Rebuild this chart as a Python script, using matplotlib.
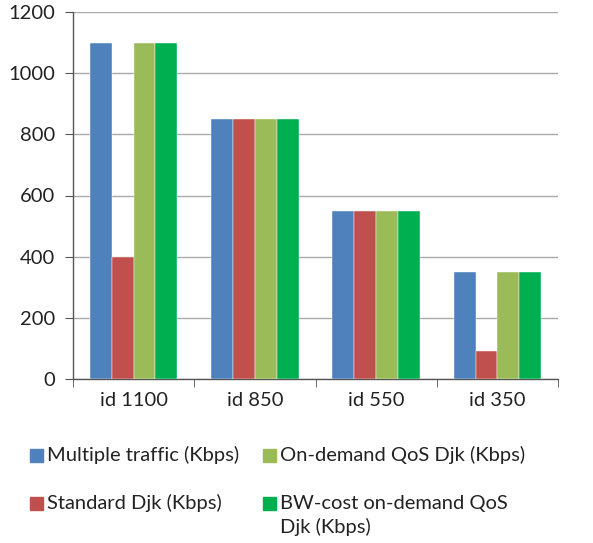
import matplotlib
matplotlib.use("Agg")
import matplotlib.pyplot as plt
from matplotlib.patches import Rectangle
import numpy as np

categories = ["id 1100", "id 850", "id 550", "id 350"]
multiple_traffic = [1100, 850, 550, 350]
standard_djk = [400, 850, 550, 90]
on_demand_qos = [1100, 850, 550, 350]
bw_cost_qos = [1100, 850, 550, 350]

series = [
    ("Multiple traffic (Kbps)", multiple_traffic, "#4F81BD"),
    ("Standard Djk (Kbps)", standard_djk, "#C0504D"),
    ("On-demand QoS Djk (Kbps)", on_demand_qos, "#9BBB59"),
    ("BW-cost on-demand QoS\nDjk (Kbps)", bw_cost_qos, "#00B050"),
]

plt.rcParams["font.family"] = ["Lato", "DejaVu Sans"]
FS = 14.5
TXT = "#222222"

W, H = 593, 543
fig = plt.figure(figsize=(W / 100, H / 100), dpi=100)
ax = fig.add_axes([73 / W, 1 - 379 / H, (558 - 73) / W, (379 - 12) / H])

x = np.arange(len(categories))
w = 0.18
for i, (label, vals, color) in enumerate(series):
    ax.bar(x + (i - 1.5) * w, vals, w, color=color, label=label,
           edgecolor="white", linewidth=0.3, zorder=3)

ax.set_xlim(-0.5, len(categories) - 0.5)
ax.set_ylim(0, 1200)
ax.set_yticks(range(0, 1201, 200))
ax.set_xticks(x)
ax.set_xticklabels(categories)
ax.set_xticks(np.arange(-0.5, len(categories), 1.0), minor=True)
ax.tick_params(axis="x", which="major", length=0, pad=9, labelsize=FS, labelcolor=TXT)
ax.tick_params(axis="x", which="minor", length=6, color="#555555", direction="out")
ax.tick_params(axis="y", length=6, color="#555555", labelsize=FS, labelcolor=TXT, pad=7)

ax.yaxis.grid(True, color="#AAAAAA", linewidth=1.0, zorder=0)
ax.set_axisbelow(True)
for s in ("top", "right"):
    ax.spines[s].set_visible(False)
for s in ("left", "bottom"):
    ax.spines[s].set_color("#555555")
    ax.spines[s].set_linewidth(1.0)

# Two-column legend below the plot, laid out in pixel positions
legend_slots = [(30, 455), (30, 503), (263, 455), (263, 503)]
box = 13
for (px, py), (label, _, color) in zip(legend_slots, series):
    lines = label.split("\n")
    fig.add_artist(Rectangle((px / W, 1 - (py + box / 2) / H), box / W, box / H,
                             transform=fig.transFigure, color=color))
    for k, line in enumerate(lines):
        fig.text((px + box + 4) / W, 1 - (py + 24 * k) / H, line,
                 fontsize=FS, color=TXT, va="center", ha="left")

fig.savefig("out.png", dpi=100, facecolor="white")
